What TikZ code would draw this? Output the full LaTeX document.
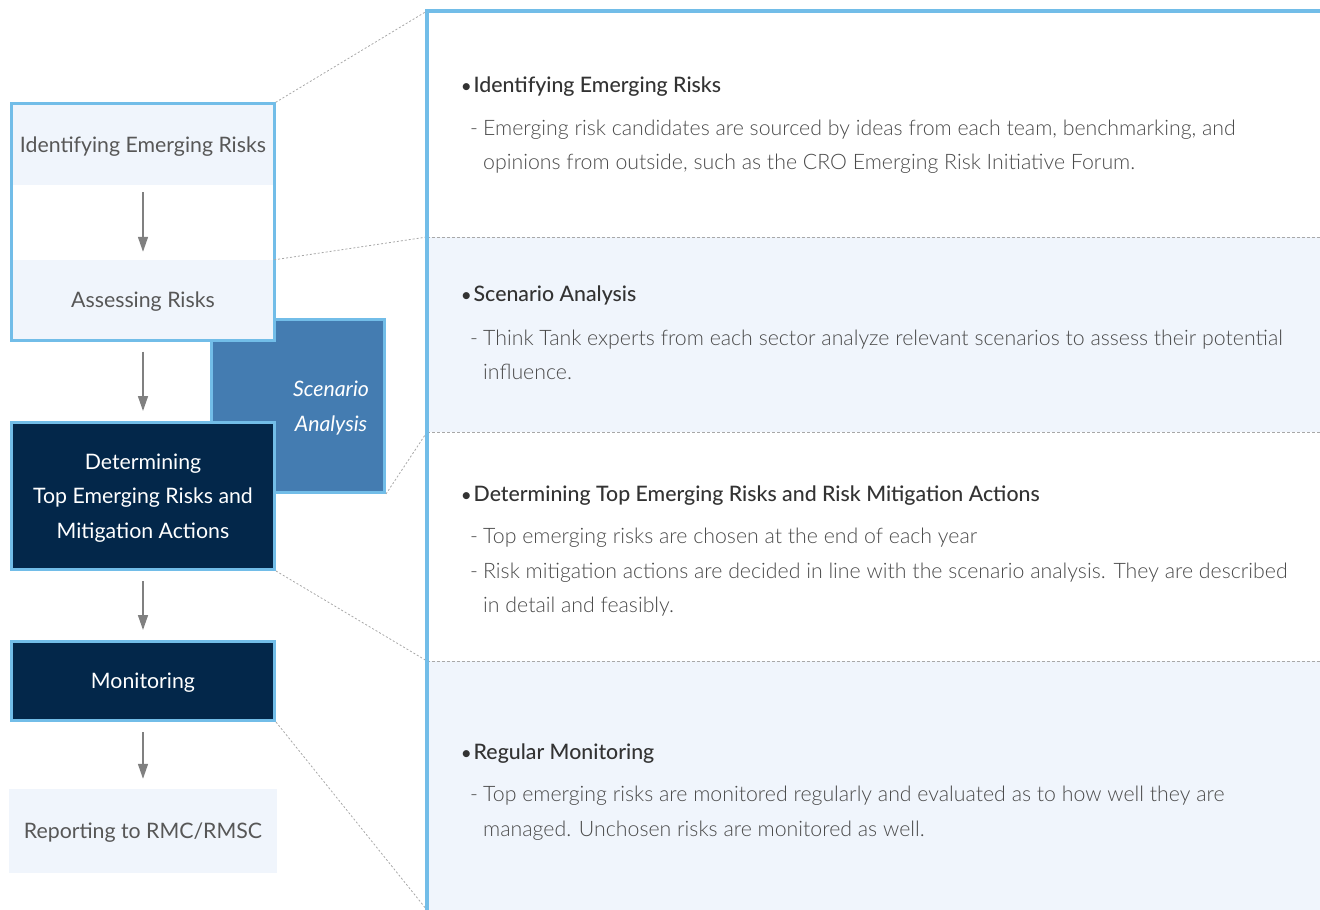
\documentclass[tikz,border=0pt]{standalone}
\usepackage{fontspec}
\setmainfont{Lato}
\newfontfamily\lightfont{Lato Light}
\newfontfamily\headfont{Lato Medium}
\usetikzlibrary{arrows.meta,fit,calc}
\definecolor{skyline}{HTML}{72BDE8}
\definecolor{paleblue}{HTML}{F0F5FC}
\definecolor{navy}{HTML}{03274A}
\definecolor{scenblue}{HTML}{447CB1}
\definecolor{arrowgrey}{HTML}{808080}
\definecolor{headgrey}{HTML}{333333}
\definecolor{bodygrey}{HTML}{4A4A4A}
\definecolor{boxgrey}{HTML}{575757}
\definecolor{dotgrey}{HTML}{A8A8A8}
\newcommand\bul{\makebox[12.5pt][l]{\scalebox{0.85}{•}}}
\newcommand\dashitem{\strut\makebox[13pt][l]{-}}
\newcommand\contitem{\strut\hspace*{13pt}}
\tikzset{
  stage/.style={draw=skyline,line width=3pt,fill=navy,text=white,minimum width=263pt,
    inner sep=0pt,text depth=0pt,align=center,font=\fontsize{21.3}{34.5}\selectfont},
  softstage/.style={fill=paleblue,text=boxgrey,minimum width=262pt,inner sep=0pt,
    text depth=0pt,font=\fontsize{21.3}{34.5}\selectfont},
  panel/.style={minimum width=893pt,inner sep=0pt,outer sep=0pt},
  headtext/.style={anchor=base west,inner sep=0pt,text=headgrey,font=\headfont\fontsize{21.3}{34.5}\selectfont},
  bodytext/.style={anchor=north west,inner sep=0pt,align=left,text=bodygrey,
    font=\lightfont\fontsize{21.3}{34.5}\selectfont},
  flow/.style={draw=arrowgrey,line width=1.5pt,-{Triangle[width=10pt,length=15pt]},
    shorten <=10pt,shorten >=10pt},
  zoomline/.style={draw=dotgrey,line width=0.8pt,dash pattern=on 2pt off 2pt},
  sepline/.style={draw=dotgrey,line width=1pt,dash pattern=on 3pt off 2pt},
  rail/.style={draw=skyline,line width=4pt,line cap=rect}
}
\begin{document}
\begin{tikzpicture}[x=1pt,y=-1pt]
\useasboundingbox (0,0) rectangle (1320,910);

% right panel
\node[panel,minimum height=226pt] (sec1) at (873.5,124) {};
\node[panel,minimum height=195pt,fill=paleblue] (sec2) at (873.5,334.5) {};
\node[panel,minimum height=229pt] (sec3) at (873.5,546.5) {};
\node[panel,minimum height=249pt,fill=paleblue] (sec4) at (873.5,785.5) {};
\foreach \s in {sec2,sec3,sec4} {\draw[sepline] (\s.north west) -- (\s.north east);}

\node[headtext] (h1) at (461,92.5) {\bul Identifying Emerging Risks};
\node[bodytext] (b1) at (470,110.8) {\dashitem Emerging risk candidates are sourced by ideas from each team, benchmarking, and\\
  \contitem opinions from outside, such as the CRO Emerging Risk Initiative Forum.};
\node[headtext] (h2) at (461,301.7) {\bul Scenario Analysis};
\node[bodytext] (b2) at (470,320.8) {\dashitem Think Tank experts from each sector analyze relevant scenarios to assess their potential\\
  \contitem influence.};
\node[headtext] (h3) at (461,501) {\bul Determining Top Emerging Risks and Risk Mitigation Actions};
\node[bodytext] (b3) at (470,519.2) {\dashitem Top emerging risks are chosen at the end of each year\\
  \dashitem Risk mitigation actions are decided in line with the scenario analysis. They are described\\
  \contitem in detail and feasibly.};
\node[headtext] (h4) at (461,759) {\bul Regular Monitoring};
\node[bodytext] (b4) at (470,777.2) {\dashitem Top emerging risks are monitored regularly and evaluated as to how well they are\\
  \contitem managed. Unchosen risks are monitored as well.};

% left flow
\node[stage,fill=scenblue,minimum width=173pt,minimum height=173pt] (scen) at (298,406) {};
\node[text=white,align=center,text depth=0pt,font=\itshape\fontsize{21.3}{35}\selectfont] (scentext)
  at ($(scen.center)+(33,0)$) {Scenario\\Analysis};
\node[softstage,minimum height=81pt] (ident) at (143,144.5) {Identifying Emerging Risks};
\node[softstage,minimum height=80pt] (assess) at (143,300) {Assessing Risks};
\node[draw=skyline,line width=3pt,inner sep=0pt,fit=(ident)(assess)] (frame) {};
\node[stage,minimum height=147pt] (det) at (143,496) {Determining\\Top Emerging Risks and\\Mitigation Actions};
\node[stage,minimum height=79pt] (mon) at (143,681) {Monitoring};
\node[softstage,minimum width=268pt,minimum height=84pt] (rep) at (143,831) {Reporting to RMC/RMSC};

\draw[flow,shorten <=7pt,shorten >=8pt] (ident) -- (assess);
\draw[flow] (frame) -- (det);
\draw[flow] (det) -- (mon);
\draw[flow] (mon) -- (rep);

% zoom lines
\draw[zoomline] (frame.north east) -- (sec1.north west);
\draw[zoomline] (assess.north east) -- (sec2.north west);
\draw[zoomline] (scen.south east) -- (sec3.north west);
\draw[zoomline] (det.south east) -- (sec4.north west);
\draw[zoomline] (mon.south east) -- (sec4.south west);

\draw[rail] (sec1.north west) -- (sec1.north east);
\draw[rail] (sec1.north west) -- (sec4.south west);
\end{tikzpicture}
\end{document}
